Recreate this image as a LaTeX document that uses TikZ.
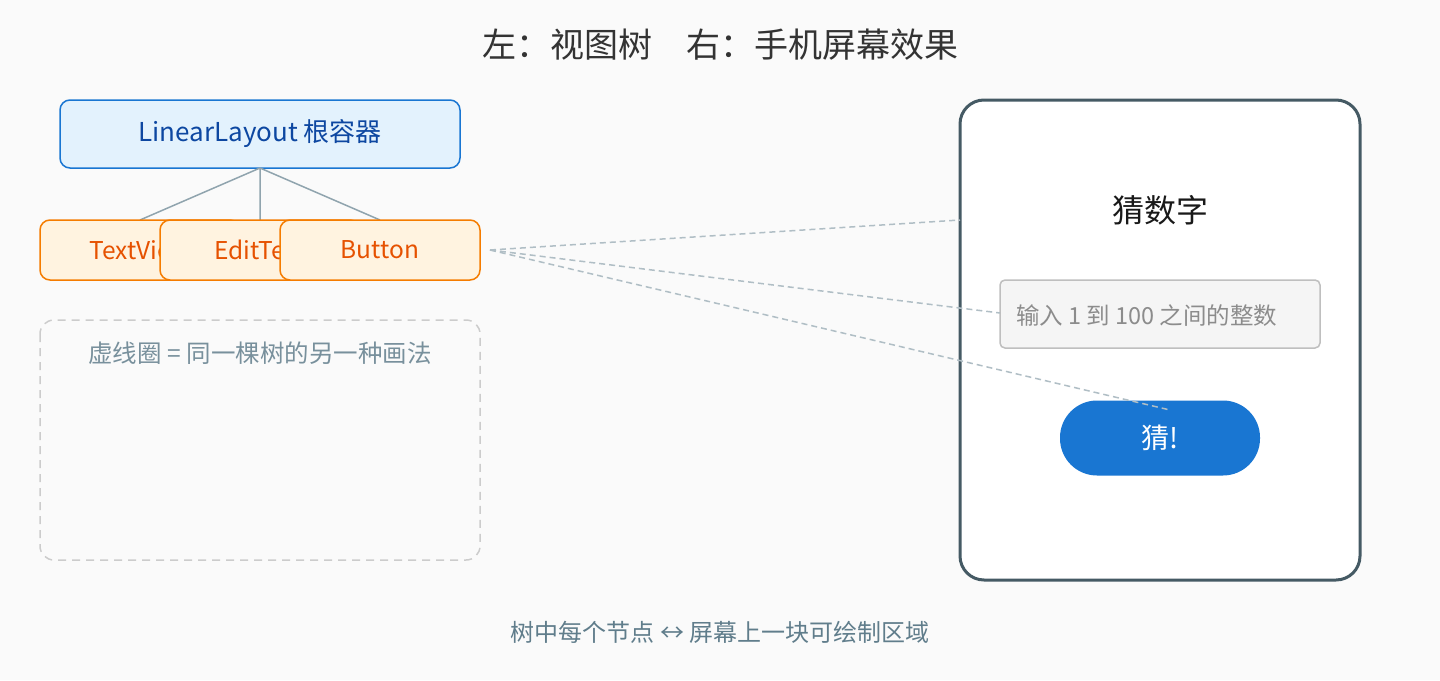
\documentclass[tikz,border=0pt]{standalone}
\usepackage{fontspec}
\setmainfont{Noto Sans CJK SC}
\usetikzlibrary{positioning}
\definecolor{bgc}{HTML}{FAFAFA}
\definecolor{rootfill}{HTML}{E3F2FD}
\definecolor{rootdraw}{HTML}{1976D2}
\definecolor{roottext}{HTML}{0D47A1}
\definecolor{kidfill}{HTML}{FFF3E0}
\definecolor{kiddraw}{HTML}{F57C00}
\definecolor{kidtext}{HTML}{E65100}
\definecolor{edgec}{HTML}{90A4AE}
\definecolor{linkc}{HTML}{B0BEC5}
\definecolor{phonec}{HTML}{455A64}
\definecolor{notec}{HTML}{78909C}
\definecolor{footc}{HTML}{607D8B}
\definecolor{titlec}{HTML}{333333}
\tikzset{%
  treenode/.style = {shape=rectangle, rounded corners=10pt, draw, line width=1.5pt,%
                     minimum height=60pt, inner sep=0pt},%
  root/.style     = {treenode, fill=rootfill, draw=rootdraw, text=roottext,%
                     minimum width=400pt, minimum height=68pt, font=\fontsize{26}{30}\selectfont},%
  kid/.style      = {treenode, fill=kidfill, draw=kiddraw, text=kidtext,%
                     minimum width=200pt, font=\fontsize{24.5}{28}\selectfont},%
  link/.style     = {draw=linkc, dashed, line width=1.5pt, dash pattern=on 6pt off 4pt},%
  branch/.style   = {draw=edgec, line width=1.5pt}%
}
\begin{document}
\begin{tikzpicture}[x=1pt,y=-1pt]
  \fill[bgc] (0,0) rectangle (1440,680);
  \useasboundingbox (0,0) rectangle (1440,680);
  \node[text=titlec] (title) at (720,45) {\fontsize{34}{40}\selectfont 左：视图树\quad 右：手机屏幕效果};
  % tree
  \node[root] (ll) at (260,134) {LinearLayout 根容器};
  \coordinate (llb) at (260,168);
  \coordinate (tvt) at (140,220);
  \coordinate (ett) at (260,220);
  \coordinate (btt) at (380,220);
  \draw[branch] (llb) -- (tvt) (llb) -- (ett) (llb) -- (btt);
  \node[kid] (tv) at (140,250) {TextView};
  \node[kid] (et) at (260,250) {EditText};
  \node[kid] (bt) at (380,250) {Button};
  % note box
  \draw[draw=black!20, dashed, line width=1.5pt, dash pattern=on 8pt off 6pt, rounded corners=14pt]
    (40,320) rectangle (480,560);
  \node[text=notec, font=\fontsize{24.5}{28}\selectfont] (note) at (260,353) {虚线圈 = 同一棵树的另一种画法};
  % phone
  \draw[fill=white, draw=phonec, line width=3pt, rounded corners=24pt] (960,100) rectangle (1360,580);
  \node[text=black!90, font=\fontsize{32}{38}\selectfont] (apptitle) at (1160,210) {猜数字};
  \node[draw=black!25, fill=black!4, line width=1.5pt, rounded corners=5pt, minimum width=320pt,
        minimum height=68pt, inner sep=0pt] (input) at (1160,314) {};
  \node[anchor=west, inner sep=0pt, text=black!45, font=\fontsize{23.5}{28}\selectfont] (hint) at (1016,316) {输入 1 到 100 之间的整数};
  \node[fill=rootdraw, rounded corners=37pt, minimum width=200pt, minimum height=75pt, inner sep=0pt,
        text=white, font=\fontsize{28}{32}\selectfont] (guess) at (1160,438) {猜!};
  % links
  \coordinate (src) at (490,250);
  \coordinate (dtitle) at (960,220);
  \coordinate (dinput) at (1000,313);
  \coordinate (dbtn) at (1170,410);
  \draw[link] (src) -- (dtitle);
  \draw[link] (src) -- (dinput);
  \draw[link] (src) -- (dbtn);
  \node[text=footc, font=\fontsize{24}{28}\selectfont] (foot) at (720,632) {树中每个节点 ↔ 屏幕上一块可绘制区域};
\end{tikzpicture}
\end{document}
